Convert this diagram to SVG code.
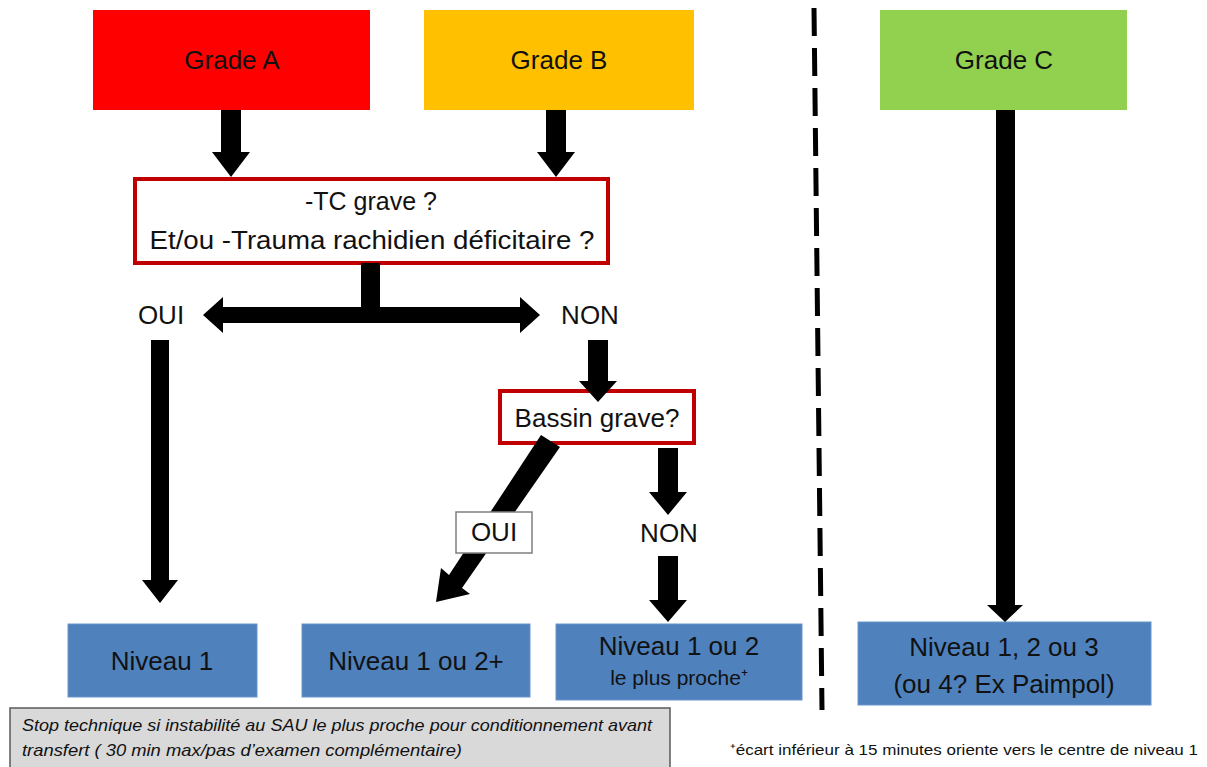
<svg xmlns="http://www.w3.org/2000/svg" width="1207" height="767" viewBox="0 0 1207 767">
<style>
text{font-family:"Liberation Sans",Arial,sans-serif;fill:#111;text-anchor:middle}
.t{font-size:26px}
.q{font-size:25px}
.lbl{font-size:26px}
.niv{fill:#4F81BD;stroke:#6a94c8;stroke-width:1}
.qbox{fill:#fff;stroke:#C00000;stroke-width:4}
.arr{fill:#000}
.note{font-size:17px;font-style:italic;text-anchor:start}
</style>
<rect width="1207" height="767" fill="#fff"/>
<g id="gradeA"><rect x="93" y="10" width="277" height="100" fill="#FF0000"/><text class="t" x="232" y="69">Grade A</text></g>
<g id="gradeB"><rect x="424" y="10" width="270" height="100" fill="#FFC000"/><text class="t" x="559" y="69">Grade B</text></g>
<g id="gradeC"><rect x="880" y="10" width="247" height="100" fill="#92D050"/><text class="t" x="1004" y="69">Grade C</text></g>
<g id="q1"><rect class="qbox" x="135" y="179" width="473" height="84"/><text class="q" x="371" y="210">-TC grave ?</text><text class="q" x="372" y="249" textLength="445" lengthAdjust="spacingAndGlyphs">Et/ou -Trauma rachidien déficitaire ?</text></g>
<g id="q2"><rect class="qbox" x="500" y="391" width="194" height="52"/><text class="lbl" x="597" y="427">Bassin grave?</text></g>
<g id="n1"><rect class="niv" x="68" y="624" width="189" height="73"/><text class="t" x="162" y="670">Niveau 1</text></g>
<g id="n2"><rect class="niv" x="302" y="624" width="228" height="73"/><text class="t" x="416" y="670">Niveau 1 ou 2+</text></g>
<g id="n3"><rect class="niv" x="556" y="624" width="246" height="76"/><text class="t" x="679" y="655">Niveau 1 ou 2</text><text x="679" y="685" style="font-size:21px">le plus proche⁺</text></g>
<g id="n4"><rect class="niv" x="858" y="622" width="293" height="83"/><text class="t" x="1004" y="656">Niveau 1, 2 ou 3</text><text class="t" x="1004" y="693">(ou 4? Ex Paimpol)</text></g>
<g id="labels">
<text class="lbl" x="161" y="324">OUI</text>
<text class="lbl" x="590" y="324">NON</text>
<text class="lbl" x="669" y="542">NON</text>
</g>
<g id="connectors">
<path class="arr" d="M221 110H241V152H250L231 177L212 152H221Z"/>
<path class="arr" d="M546 110H566V152H575L556 177L537 152H546Z"/>
<path class="arr" d="M361 263H380V307H520V297L540 315L520 333V323H223V333L203 315L223 297V307H361Z"/>
<path class="arr" d="M151 340H169V580H178L160 603L142 580H151Z"/>
<path class="arr" d="M588 340H608V381H617L598 402L579 381H588Z"/>
<path class="arr" d="M658 448H678V492H687L668 515L649 492H658Z"/>
<path class="arr" d="M658 556H678V600H687L668 622L649 600H658Z"/>
<path class="arr" d="M996 110H1015V605H1023L1005 622L987 605H996Z"/>
<path class="arr" d="M541 435L560 447L462 588L470 594L436 602L441 568L449 575Z"/>
<line x1="814" y1="8" x2="822" y2="710" stroke="#000" stroke-width="5" stroke-dasharray="28 12"/>
</g>
<g id="ouiBox"><rect x="456" y="512" width="76" height="41" fill="#fff" stroke="#7f7f7f" stroke-width="1.5"/><text class="lbl" x="494" y="541">OUI</text></g>
<g id="note"><rect x="10" y="708" width="660" height="64" fill="#D9D9D9" stroke="#595959" stroke-width="1.5"/>
<text class="note" x="22" y="731" textLength="630" lengthAdjust="spacingAndGlyphs">Stop technique si instabilité au SAU le plus proche pour conditionnement avant</text>
<text class="note" x="22" y="756" textLength="440" lengthAdjust="spacingAndGlyphs">transfert ( 30 min max/pas d’examen complémentaire)</text></g>
<g id="footnote"><text x="730" y="755" style="font-size:15px;text-anchor:start" textLength="468" lengthAdjust="spacingAndGlyphs">⁺écart inférieur à 15  minutes oriente vers le centre de niveau 1</text></g>
</svg>
